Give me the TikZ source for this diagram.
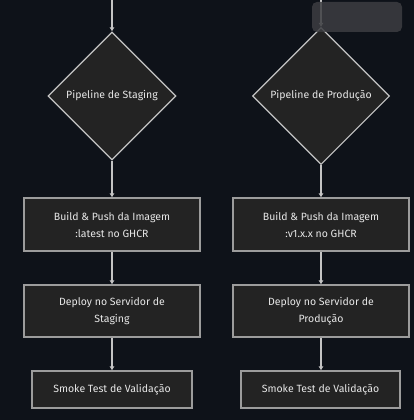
\documentclass[tikz,border=0pt]{standalone}
\usepackage{fontspec}
\setmainfont{Fira Sans}
\usepackage{tikz}
\usetikzlibrary{arrows.meta}
\usetikzlibrary{positioning}
\usetikzlibrary{shapes.geometric}
\definecolor{bgnavy}{HTML}{0E1219}
\definecolor{nodefill}{HTML}{232323}
\definecolor{linegrey}{HTML}{C4C4C4}
\definecolor{boxgrey}{HTML}{9C9C9C}
\definecolor{textgrey}{HTML}{E8E8E8}
\definecolor{tipgrey}{HTML}{3C3D41}
\tikzset{
    stage/.style = {diamond,aspect=1,inner sep=0,draw=linegrey,line width=1.1pt,fill=nodefill,text=textgrey,font=\fontsize{10.5}{17}\selectfont},
    task/.style = {rectangle,draw=boxgrey,line width=1.1pt,fill=nodefill,text=textgrey,align=center,font=\fontsize{10.5}{17}\selectfont},
    flow/.style = {draw=linegrey,line width=1.1pt,-{Latex[length=4pt,width=5pt]}}
}

\begin{document}
\begin{tikzpicture}[x=1pt,y=-1pt]
    \newcommand\colgap{209}
    % Canvas
    \fill[bgnavy] (0,0) rectangle (414,420);
    \useasboundingbox (0,0) rectangle (414,420);
    % Staging
    \path (112,0) coordinate (stgtop)
        to +(0,96) node[stage,minimum size=128pt] (stgpipe) {Pipeline de Staging}
        to +(0,224.5) node[task,minimum width=176pt,minimum height=53pt] (stgbuild) {Build \& Push da Imagem\\:latest no GHCR}
        to +(0,311) node[task,minimum width=176pt,minimum height=52pt] (stgdeploy) {Deploy no Servidor de\\Staging}
        to +(0,389.5) node[task,minimum width=160pt,minimum height=37pt] (stgsmoke) {Smoke Test de Validação}
    ;
    % Producao
    \path (112+\colgap,0) coordinate (prdtop)
        to +(0,96) node[stage,minimum size=137pt] (prdpipe) {Pipeline de Produção}
        to +(0,224.5) node[task,minimum width=176pt,minimum height=53pt] (prdbuild) {Build \& Push da Imagem\\:v1.x.x no GHCR}
        to +(0,311) node[task,minimum width=176pt,minimum height=52pt] (prddeploy) {Deploy no Servidor de\\Produção}
        to +(-0.5,389.5) node[task,minimum width=159pt,minimum height=37pt] (prdsmoke) {Smoke Test de Validação}
    ;
    % Flow
    \foreach \src/\dest in {stgtop/stgpipe,stgpipe/stgbuild,stgbuild/stgdeploy,stgdeploy/stgsmoke,prdtop/prdpipe,prdpipe/prdbuild,prdbuild/prddeploy}
        \draw[flow] (\src) to (\dest);
    \draw[flow] (prddeploy.south) to (prddeploy.south |- prdsmoke.north);
    % Tooltip overlay
    \fill[tipgrey,opacity=0.85,rounded corners=5pt] (312,2) rectangle (402,32);
\end{tikzpicture}
\end{document}
